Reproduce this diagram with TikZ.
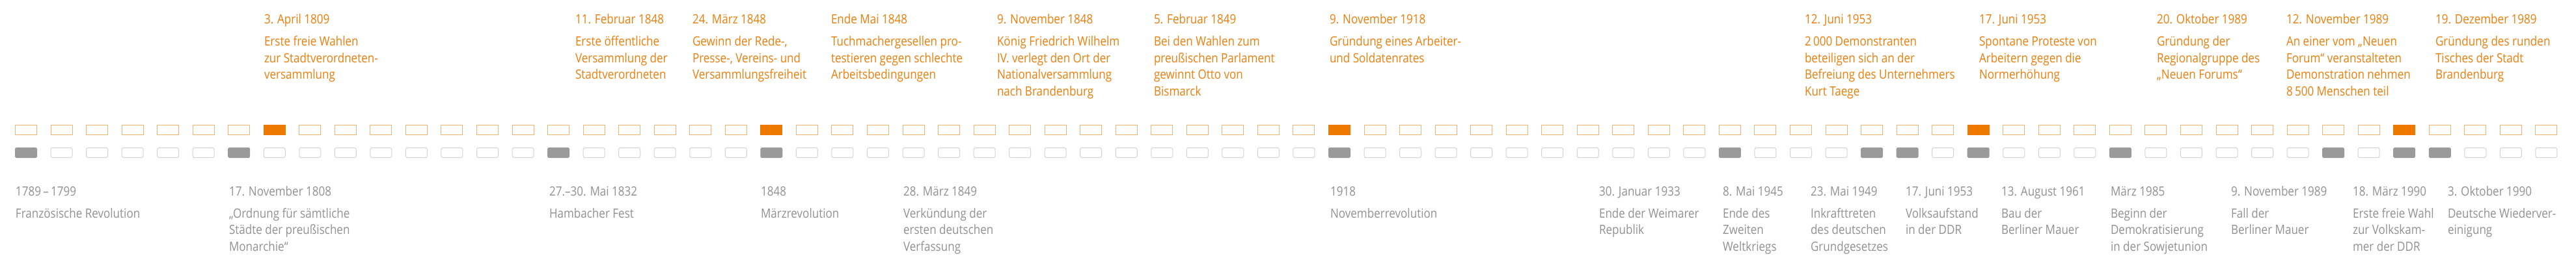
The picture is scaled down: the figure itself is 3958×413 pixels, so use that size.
\documentclass[tikz,border=0pt]{standalone}
\usepackage{fontspec}
\setmainfont[FakeStretch=0.87]{Open Sans}
\definecolor{ofillc}{RGB}{238,120,0}
\definecolor{olinec}{RGB}{244,180,110}
\definecolor{gfillc}{RGB}{154,154,154}
\definecolor{glinec}{RGB}{211,211,211}
\definecolor{otxt}{RGB}{238,125,10}
\definecolor{gtxt}{RGB}{145,145,145}
\newcommand{\lines}[1]{\begin{tabular}[t]{@{}l@{}}#1\end{tabular}}
\begin{document}
\begin{tikzpicture}[x=0.5pt,y=-0.5pt,
  obox/.style={draw=olinec,line width=0.5pt,minimum width=16.5pt,minimum height=7.5pt,inner sep=0pt},
  ofill/.style={fill=ofillc,draw=ofillc,line width=0.5pt,minimum width=16.5pt,minimum height=7.5pt,inner sep=0pt},
  gbox/.style={draw=glinec,line width=0.5pt,rounded corners=1.3pt,minimum width=16.5pt,minimum height=7.5pt,inner sep=0pt},
  gfill/.style={fill=gfillc,draw=gfillc,line width=0.5pt,rounded corners=0.8pt,minimum width=16.5pt,minimum height=7.5pt,inner sep=0pt},
  txt/.style={anchor=base west,inner sep=0pt,outer sep=0pt,font=\fontsize{9.8}{12.75}\selectfont},
  otext/.style={txt,text=otxt},
  gtext/.style={txt,text=gtxt}]
\useasboundingbox (0,0) rectangle (3958,413);
% rows of boxes
\foreach \i in {0,...,71}{
  \gdef\ostyle{obox}\gdef\gstyle{gbox}
  \foreach \j in {7,21,37,55,67}{\ifnum\i=\j\gdef\ostyle{ofill}\fi}
  \foreach \j in {0,6,15,21,37,48,52,53,55,59,65,67,68}{\ifnum\i=\j\gdef\gstyle{gfill}\fi}
  \node[\ostyle] (t\i) at ({40+54.54*\i},200) {};
  \node[\gstyle] (g\i) at ({40+54.54*\i},235) {};
}
% top events (date baseline 36.7, first text baseline 70.7)
\node[otext] (td1) at (406,36.7) {3. April 1809};
\node[otext] (te1) at (406,70.7) {\lines{Erste freie Wahlen\\zur Stadtverordneten-\\versammlung}};
\node[otext] (td2) at (884,36.7) {11. Februar 1848};
\node[otext] (te2) at (884,70.7) {\lines{Erste öffentliche\\Versammlung der\\Stadtverordneten}};
\node[otext] (td3) at (1064,36.7) {24. März 1848};
\node[otext] (te3) at (1064,70.7) {\lines{Gewinn der Rede-,\\Presse-, Vereins- und\\Versammlungsfreiheit}};
\node[otext] (td4) at (1277,36.7) {Ende Mai 1848};
\node[otext] (te4) at (1277,70.7) {\lines{Tuchmachergesellen pro-\\testieren gegen schlechte\\Arbeitsbedingungen}};
\node[otext] (td5) at (1532,36.7) {9. November 1848};
\node[otext] (te5) at (1532,70.7) {\lines{König Friedrich Wilhelm\\IV. verlegt den Ort der\\Nationalversammlung\\nach Brandenburg}};
\node[otext] (td6) at (1773,36.7) {5. Februar 1849};
\node[otext] (te6) at (1773,70.7) {\lines{Bei den Wahlen zum\\preußischen Parlament\\gewinnt Otto von\\Bismarck}};
\node[otext] (td7) at (2043,36.7) {9. November 1918};
\node[otext] (te7) at (2043,70.7) {\lines{Gründung eines Arbeiter-\\und Soldatenrates}};
\node[otext] (td8) at (2773,36.7) {12. Juni 1953};
\node[otext] (te8) at (2773,70.7) {\lines{2\,000 Demonstranten\\beteiligen sich an der\\Befreiung des Unternehmers\\Kurt Taege}};
\node[otext] (td9) at (3041,36.7) {17. Juni 1953};
\node[otext] (te9) at (3041,70.7) {\lines{Spontane Proteste von\\Arbeitern gegen die\\Normerhöhung}};
\node[otext] (td10) at (3314,36.7) {20. Oktober 1989};
\node[otext] (te10) at (3314,70.7) {\lines{Gründung der\\Regionalgruppe des\\„Neuen Forums“}};
\node[otext] (td11) at (3513,36.7) {12. November 1989};
\node[otext] (te11) at (3513,70.7) {\lines{An einer vom „Neuen\\Forum“ veranstalteten\\Demonstration nehmen\\8\,500 Menschen teil}};
\node[otext] (td12) at (3742,36.7) {19. Dezember 1989};
\node[otext] (te12) at (3742,70.7) {\lines{Gründung des runden\\Tisches der Stadt\\Brandenburg}};
% bottom events (date baseline 301, first text baseline 335)
\node[gtext] (bd1) at (24,301) {1789\,–\,1799};
\node[gtext] (be1) at (24,335) {\lines{Französische Revolution}};
\node[gtext] (bd2) at (352,301) {17. November 1808};
\node[gtext] (be2) at (352,335) {\lines{„Ordnung für sämtliche\\Städte der preußischen\\Monarchie“}};
\node[gtext] (bd3) at (844,301) {27.–30. Mai 1832};
\node[gtext] (be3) at (844,335) {\lines{Hambacher Fest}};
\node[gtext] (bd4) at (1169,301) {1848};
\node[gtext] (be4) at (1169,335) {\lines{Märzrevolution}};
\node[gtext] (bd5) at (1388,301) {28. März 1849};
\node[gtext] (be5) at (1388,335) {\lines{Verkündung der\\ersten deutschen\\Verfassung}};
\node[gtext] (bd6) at (2044,301) {1918};
\node[gtext] (be6) at (2044,335) {\lines{Novemberrevolution}};
\node[gtext] (bd7) at (2457,301) {30. Januar 1933};
\node[gtext] (be7) at (2457,335) {\lines{Ende der Weimarer\\Republik}};
\node[gtext] (bd8) at (2647,301) {8. Mai 1945};
\node[gtext] (be8) at (2647,335) {\lines{Ende des\\Zweiten\\Weltkriegs}};
\node[gtext] (bd9) at (2782,301) {23. Mai 1949};
\node[gtext] (be9) at (2782,335) {\lines{Inkrafttreten\\des deutschen\\Grundgesetzes}};
\node[gtext] (bd10) at (2928,301) {17. Juni 1953};
\node[gtext] (be10) at (2928,335) {\lines{Volksaufstand\\in der DDR}};
\node[gtext] (bd11) at (3075,301) {13. August 1961};
\node[gtext] (be11) at (3075,335) {\lines{Bau der\\Berliner Mauer}};
\node[gtext] (bd12) at (3243,301) {März 1985};
\node[gtext] (be12) at (3243,335) {\lines{Beginn der\\Demokratisierung\\in der Sowjetunion}};
\node[gtext] (bd13) at (3428,301) {9. November 1989};
\node[gtext] (be13) at (3428,335) {\lines{Fall der\\Berliner Mauer}};
\node[gtext] (bd14) at (3615,301) {18. März 1990};
\node[gtext] (be14) at (3615,335) {\lines{Erste freie Wahl\\zur Volkskam-\\mer der DDR}};
\node[gtext] (bd15) at (3761,301) {3. Oktober 1990};
\node[gtext] (be15) at (3761,335) {\lines{Deutsche Wiederver-\\einigung}};
\end{tikzpicture}
\end{document}
